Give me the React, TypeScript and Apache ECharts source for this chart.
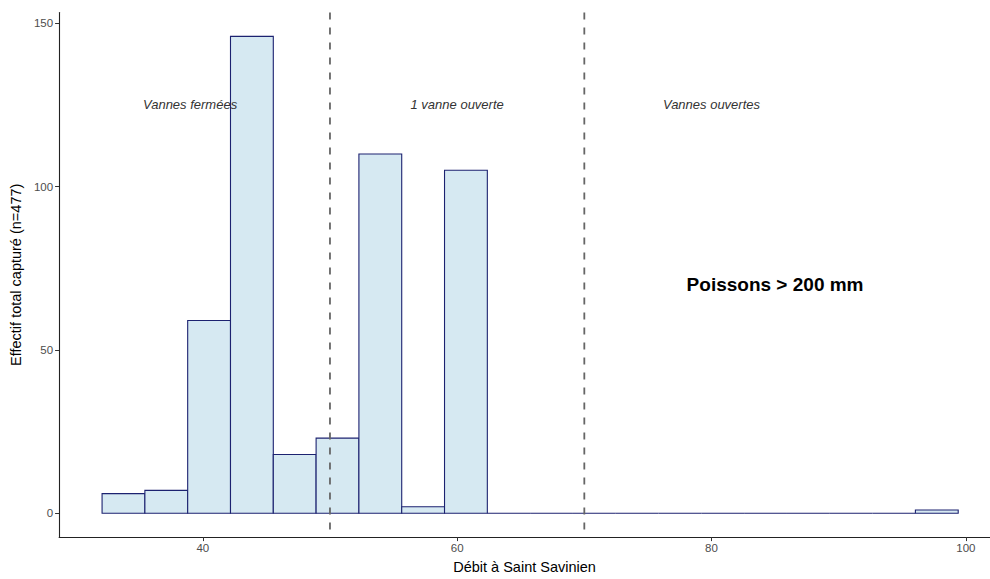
import React, { useEffect, useRef } from "react";
import * as echarts from "echarts";

// Histogram of catches by discharge at Saint Savinien (20 bins)
const binStart = 32.08;
const binWidth = 3.366;
const binCounts = [6, 7, 59, 146, 18, 23, 110, 2, 105, 0, 0, 0, 0, 0, 0, 0, 0, 0, 0, 1];

// Gate regime thresholds
const thresholds = [50, 70];

// Annotations
const annotX = [39, 60, 80];
const annotY = [125, 125, 125];
const annotText = ["Vannes fermées", "1 vanne ouverte", "Vannes ouvertes"];
const mainLabel = { x: 85, y: 70, text: "Poissons > 200 mm" };

const xTicks = [40, 60, 80, 100];
const yTicks = [0, 50, 100, 150];

const FONT = "'Liberation Sans', Arial, sans-serif";

export default function App() {
  const ref = useRef<HTMLDivElement>(null);

  useEffect(() => {
    document.body.style.margin = "0";
    if (!ref.current) return;
    const chart = echarts.init(ref.current, undefined, { renderer: "svg" });

    const bins = binCounts.map((c, i) => [
      binStart + i * binWidth,
      binStart + (i + 1) * binWidth,
      c,
    ]);

    const axisLabelStyle = { color: "#4d4d4d", fontSize: 11.5, fontFamily: FONT };

    chart.setOption({
      animation: false,
      backgroundColor: "#ffffff",
      grid: { left: 57, right: 0, top: 12.5, bottom: 39 },
      xAxis: {
        type: "value",
        min: 28.7,
        max: 101.9,
        name: "Débit à Saint Savinien",
        nameLocation: "middle",
        nameGap: 20,
        nameTextStyle: { color: "#000", fontSize: 14.5, fontFamily: FONT },
        splitLine: { show: false },
        axisLine: { onZero: false, lineStyle: { color: "#222", width: 1.1 } },
        axisTick: { customValues: xTicks, length: 4, lineStyle: { color: "#333" } },
        axisLabel: { customValues: xTicks, margin: 5, ...axisLabelStyle },
      },
      yAxis: {
        type: "value",
        min: -7.3,
        max: 153.3,
        name: "Effectif total capturé (n=477)",
        nameLocation: "middle",
        nameGap: 32,
        nameRotate: 90,
        nameTextStyle: { color: "#000", fontSize: 14.5, fontFamily: FONT },
        splitLine: { show: false },
        axisLine: { show: true, lineStyle: { color: "#222", width: 1.1 } },
        axisTick: { show: true, customValues: yTicks, length: 4, lineStyle: { color: "#333" } },
        axisLabel: { customValues: yTicks, margin: 6, ...axisLabelStyle },
      },
      series: [
        {
          type: "custom",
          data: bins,
          encode: { x: [0, 1], y: 2 },
          renderItem: (params: any, api: any) => {
            const p0 = api.coord([api.value(0), api.value(2)]);
            const p1 = api.coord([api.value(1), 0]);
            return {
              type: "rect",
              shape: { x: p0[0], y: p0[1], width: p1[0] - p0[0], height: p1[1] - p0[1] },
              style: { fill: "#d6e9f2", stroke: "#1c2270", lineWidth: 1.1 },
            };
          },
          z: 2,
        },
        {
          type: "custom",
          data: thresholds.map((t) => [t, 0]),
          encode: { x: 0, y: 1 },
          renderItem: (params: any, api: any) => {
            const p = api.coord([api.value(0), 0]);
            const cs = params.coordSys;
            return {
              type: "line",
              shape: { x1: p[0], y1: cs.y, x2: p[0], y2: cs.y + cs.height },
              style: { stroke: "#666666", lineWidth: 1.8, lineDash: [7, 8] },
            };
          },
          z: 3,
        },
        {
          type: "custom",
          data: annotX.map((x, i) => [x, annotY[i]]),
          encode: { x: 0, y: 1 },
          renderItem: (params: any, api: any) => {
            const p = api.coord([api.value(0), api.value(1)]);
            return {
              type: "text",
              x: p[0],
              y: p[1],
              style: {
                text: annotText[params.dataIndex],
                fill: "#333333",
                fontSize: 13,
                fontStyle: "italic",
                fontFamily: FONT,
                align: "center",
                verticalAlign: "middle",
              },
            };
          },
          z: 4,
        },
        {
          type: "custom",
          data: [[mainLabel.x, mainLabel.y]],
          encode: { x: 0, y: 1 },
          renderItem: (params: any, api: any) => {
            const p = api.coord([api.value(0), api.value(1)]);
            return {
              type: "text",
              x: p[0],
              y: p[1],
              style: {
                text: mainLabel.text,
                fill: "#000000",
                fontSize: 19,
                fontWeight: "bold",
                fontFamily: FONT,
                align: "center",
                verticalAlign: "middle",
              },
            };
          },
          z: 4,
        },
      ],
    });

    return () => chart.dispose();
  }, []);

  return <div ref={ref} style={{ width: 990, height: 579 }} />;
}
